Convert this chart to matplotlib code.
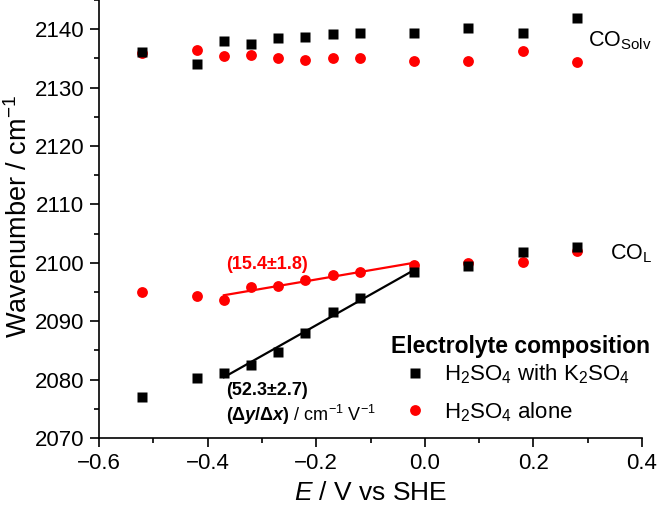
import numpy as np
import matplotlib
matplotlib.use("Agg")
import matplotlib.pyplot as plt

plt.rcParams['font.family'] = ['Liberation Sans', 'DejaVu Sans']
plt.rcParams['mathtext.fontset'] = 'custom'
plt.rcParams['mathtext.rm'] = 'Liberation Sans'
plt.rcParams['mathtext.it'] = 'Liberation Sans:italic'
plt.rcParams['mathtext.bf'] = 'Liberation Sans:bold'
plt.rcParams['mathtext.bfit'] = 'Liberation Sans:italic:bold'

potential = [-0.52, -0.42, -0.37, -0.32, -0.27, -0.22, -0.17, -0.12, -0.02, 0.08, 0.18, 0.28]

# H2SO4 with K2SO4 (black squares)
k_solv = [2136.1, 2134.0, 2137.9, 2137.4, 2138.5, 2138.7, 2139.2, 2139.3, 2139.3, 2140.2, 2139.3, 2141.9]
k_lin = [2077.0, 2080.2, 2081.2, 2082.5, 2084.8, 2088.0, 2091.6, 2093.9, 2098.5, 2099.4, 2101.9, 2102.7]

# H2SO4 alone (red circles)
h_solv = [2136.0, 2136.4, 2135.4, 2135.5, 2135.1, 2134.7, 2135.1, 2135.0, 2134.5, 2134.5, 2136.2, 2134.3]
h_lin = [2095.0, 2094.3, 2093.7, 2095.8, 2096.0, 2097.1, 2097.9, 2098.5, 2099.6, 2099.9, 2100.1, 2102.1]

fit_start, fit_end = 2, 9  # indices of points used for the linear fits (-0.37 .. -0.02 V)

fig = plt.figure(figsize=(6.58, 5.12), dpi=100)
ax = fig.add_axes([0.1505, 0.1445, 0.8252, 0.8555])

ms_sq = 7.2
ms_ci = 7.8
x = np.array(potential)
# red
ax.plot(x, h_solv, 'o', color='#ff0000', ms=ms_ci, mec='none', zorder=2)
ax.plot(x, h_lin, 'o', color='#ff0000', ms=ms_ci, mec='none', zorder=2, label='H$_2$SO$_4$ alone')
# black
ax.plot(x, k_solv, 's', color='black', ms=ms_sq, mec='none', zorder=3)
ax.plot(x, k_lin, 's', color='black', ms=ms_sq, mec='none', zorder=3, label='H$_2$SO$_4$ with K$_2$SO$_4$')

xf = x[fit_start:fit_end]
for yv, col in ((h_lin, '#ff0000'), (k_lin, 'black')):
    p = np.polyfit(xf, np.array(yv)[fit_start:fit_end], 1)
    ax.plot([xf[0], xf[-1]], np.polyval(p, [xf[0], xf[-1]]), '-', color=col, lw=1.6, zorder=4)

ax.set_xlim(-0.6, 0.4)
ax.set_ylim(2070, 2145)
ax.set_xticks(np.arange(-0.6, 0.41, 0.2))
ax.set_xticks(np.arange(-0.5, 0.4, 0.2), minor=True)
ax.set_yticks(np.arange(2070, 2141, 10))
ax.set_yticks(np.arange(2075, 2146, 10), minor=True)
ax.set_xticklabels(['\u22120.6', '\u22120.4', '\u22120.2', '0.0', '0.2', '0.4'])
ax.spines['top'].set_visible(False)
ax.spines['right'].set_visible(False)
for s in ('left', 'bottom'):
    ax.spines[s].set_linewidth(1.2)
ax.tick_params(which='major', direction='out', length=6.5, width=1.2, labelsize=16, pad=4)
ax.tick_params(which='minor', direction='out', length=3.8, width=1.2)

ax.set_xlabel('$E$ / V vs SHE', fontsize=19, labelpad=5)
ax.set_ylabel('Wavenumber / cm$^{-1}$', fontsize=19.5, va='center')
ax.yaxis.set_label_coords(-0.147, 0.505)

ax.text(0.300, 2138.0, 'CO$_{\\mathrm{Solv}}$', fontsize=15.5, ha='left', va='center')
ax.text(0.341, 2101.5, 'CO$_{\\mathrm{L}}$', fontsize=15.5, ha='left', va='center')

ax.text(-0.366, 2099.7, '(15.4\u00b11.8)', color='#ff0000', fontsize=13, fontweight='bold',
        ha='left', va='center')
ax.text(-0.366, 2078.2, '(52.3\u00b12.7)', color='black', fontsize=13, fontweight='bold',
        ha='left', va='center')
ax.text(-0.366, 2073.9, r'$\mathbf{(\Delta}\mathbfit{y}\mathbf{/\Delta}\mathbfit{x}\mathbf{)}$ / cm$^{-1}$ V$^{-1}$',
        color='black', fontsize=13, ha='left', va='center')

# legend title drawn as its own text, entries as a legend
ax.text(-0.0622, 2085.6, 'Electrolyte composition', fontsize=16.5, fontweight='bold',
        ha='left', va='center')
handles, labels = ax.get_legend_handles_labels()
leg = ax.legend(handles[::-1], labels[::-1], loc='upper left', bbox_to_anchor=(0.541, 0.172),
                frameon=False, fontsize=16,
                handletextpad=0.3, labelspacing=0.63, borderpad=0.0, borderaxespad=0.0,
                handlelength=2.0)

fig.savefig('out.png', dpi=100)
